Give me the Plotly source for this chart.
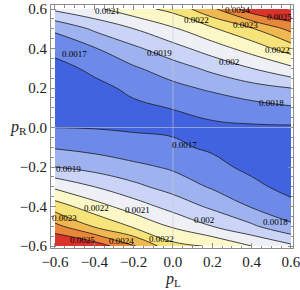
import plotly.graph_objects as go

# grid coordinates
p_L = [-0.6, -0.4, -0.2, 0.0, 0.2, 0.4, 0.6]
p_R = [-0.6, -0.5, -0.4, -0.3, -0.2, -0.1, 0.0, 0.1, 0.2, 0.3, 0.4, 0.5, 0.6]

# values (rows follow p_R, columns follow p_L)
z_rows = [
    [0.002620, 0.002560, 0.002410, 0.002230, 0.002190, 0.002100, 0.002020],
    [0.002430, 0.002290, 0.002186, 0.0020875, 0.002000, 0.001917, 0.001818],
    [0.002250, 0.002143, 0.002050, 0.0019625, 0.001880, 0.001793, 0.001731],
    [0.002080, 0.002000, 0.001925, 0.001860, 0.001788, 0.001727, 0.001664],
    [0.001900, 0.001863, 0.001827, 0.001784, 0.001729, 0.001675, 0.001635],
    [0.001791, 0.001769, 0.001730, 0.001715, 0.001686, 0.001662, 0.001642],
    [0.001699, 0.001695, 0.001690, 0.001686, 0.001686, 0.001686, 0.001687],
    [0.001654, 0.001667, 0.001682, 0.001702, 0.001725, 0.001764, 0.001789],
    [0.001643, 0.001674, 0.001720, 0.001771, 0.001820, 0.001863, 0.001900],
    [0.001667, 0.001721, 0.001787, 0.001855, 0.001925, 0.002000, 0.002080],
    [0.001730, 0.001793, 0.001880, 0.0019625, 0.002050, 0.002143, 0.002250],
    [0.001818, 0.001917, 0.002000, 0.0020875, 0.002186, 0.002290, 0.002430],
    [0.002020, 0.002080, 0.002160, 0.002230, 0.002380, 0.002560, 0.002620],
]

contour_start = 0.0017
contour_end = 0.0025
contour_step = 0.0001

# contour label texts as printed on the reference
label_texts = ['0.0017', '0.0021', '0.0019', '0.0022', '0.0024', '0.0023', '0.0025',
               '0.0022', '0.002', '0.0018', '0.0017', '0.0019', '0.0022', '0.0021',
               '0.0023', '0.0025', '0.0024', '0.0022', '0.002', '0.0018']

band_colors = ['#4263e0', '#6e8ae8', '#9fb2f0', '#c9d4f6', '#eef0f6',
               '#fbf7c6', '#f6e37a', '#f0b850', '#e8863a', '#d8342c']

tick_vals = [-0.6, -0.4, -0.2, 0.0, 0.2, 0.4, 0.6]

# layout: where each contour label sits (data coordinates)
label_pos = [(-0.50, 0.37), (-0.335, 0.59), (-0.07, 0.377), (0.117, 0.544),
             (0.33, 0.595), (0.37, 0.52), (0.54, 0.56), (0.53, 0.39),
             (0.285, 0.33), (0.50, 0.124), (0.06, -0.09), (-0.53, -0.21),
             (-0.39, -0.41), (-0.18, -0.42), (-0.55, -0.46), (-0.46, -0.57),
             (-0.26, -0.575), (-0.06, -0.565), (0.16, -0.47), (0.52, -0.48)]

n = len(band_colors)
cscale = []
for i, c in enumerate(band_colors):
    lo = max(0.0, (i - 0.5) / (n - 1))
    hi = min(1.0, (i + 0.5) / (n - 1))
    cscale.append([lo, c])
    cscale.append([hi, c])

fig = go.Figure(go.Contour(
    x=p_L, y=p_R, z=z_rows,
    colorscale=cscale, showscale=False,
    contours=dict(start=contour_start, end=contour_end, size=contour_step,
                  coloring='fill', showlabels=False),
    line=dict(color='#1a1a1a', width=0.8, smoothing=1.2),
    hoverinfo='skip',
))

frame = '#8c8c8c'
axis_common = dict(
    showline=True, mirror='allticks', linecolor=frame, linewidth=1,
    ticks='inside', ticklen=5, tickcolor=frame, tickwidth=1,
    tickvals=tick_vals, tickformat='.1f', automargin=False,
    ticklabeloverflow='allow',
    minor=dict(ticks='inside', ticklen=2.5, dtick=0.05, tick0=0, tickcolor=frame),
    showgrid=False, zeroline=False,
    tickfont=dict(family='Liberation Serif', size=15, color='#222'),
)
fig.update_xaxes(range=[-0.6203, 0.6102], **axis_common)
fig.update_yaxes(range=[-0.6101, 0.6203], **axis_common)

fig.add_shape(type='line', xref='x', yref='y', x0=0, x1=0, y0=-0.6, y1=0.6,
              line=dict(color='rgba(200,200,210,0.6)', width=1), layer='above')
fig.add_shape(type='line', xref='x', yref='y', x0=-0.6, x1=0.6, y0=0, y1=0,
              line=dict(color='rgba(200,200,210,0.6)', width=1), layer='above')

for t, (lx, ly) in zip(label_texts, label_pos):
    fig.add_annotation(text=t, x=lx, y=ly, xref='x', yref='y', showarrow=False,
                       xanchor='center', yanchor='middle',
                       font=dict(family='Liberation Serif', size=9, color='black'))

fig.add_annotation(text='<i>p</i><sub>L</sub>', xref='paper', yref='paper',
                   x=0.504, y=-0.128, showarrow=False, xanchor='center', yanchor='middle',
                   font=dict(family='Liberation Serif', size=16, color='#222'))
fig.add_annotation(text='<i>p</i><sub>R</sub>', xref='paper', yref='paper',
                   x=-0.136, y=0.494, showarrow=False, xanchor='center', yanchor='middle',
                   font=dict(family='Liberation Serif', size=16, color='#222'))

fig.update_layout(width=300, height=290, margin=dict(l=51, r=7, t=5, b=42),
                  paper_bgcolor='white', plot_bgcolor='white', showlegend=False)
fig.write_html('out.html', config={'displayModeBar': False},
               post_script="document.body.style.margin='0';document.body.style.overflow='hidden';")
